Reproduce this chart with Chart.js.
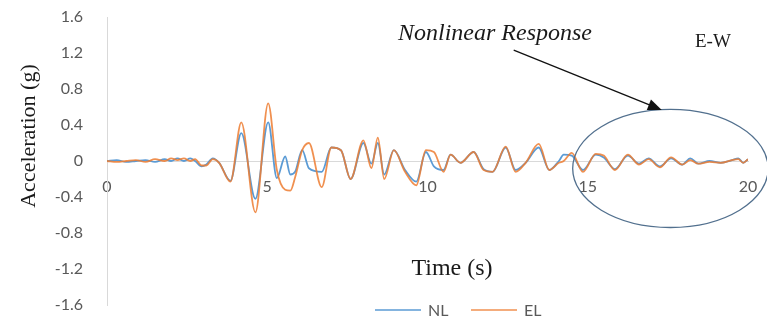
<!DOCTYPE html>
<html lang="en">
<head>
    <meta charset="UTF-8">
    <title>Acceleration E-W</title>
    <script src="https://cdn.jsdelivr.net/npm/chart.js"></script>
    <style>
        body {
            margin: 0;
            background-color: #ffffff;
        }

        .chart-box {
            width: 767px;
            height: 325px;
            position: relative;
        }
    </style>
</head>
<body>
    <div class="chart-box">
        <canvas id="accChart"></canvas>
    </div>

    <script>
        // time (s) and acceleration (g)
        const time = [0, 0.3, 0.6, 0.9, 1.2, 1.5, 1.8, 2.0, 2.2, 2.4, 2.6, 2.75, 2.95, 3.1, 3.3, 3.5,
            3.85, 4.19, 4.63, 5.03, 5.3, 5.56, 5.72, 5.87, 6.09, 6.3, 6.7, 7.0, 7.3, 7.6, 8.0, 8.25,
            8.45, 8.65, 8.95, 9.3, 9.65, 9.95, 10.2, 10.5, 10.72, 11.03, 11.44, 11.75, 12.03, 12.44,
            12.75, 13.06, 13.47, 13.8, 14.1, 14.25, 14.5, 14.85, 15.25, 15.5, 15.85, 16.25, 16.6,
            16.9, 17.25, 17.6, 17.95, 18.2, 18.45, 18.8, 19.15, 19.5, 19.7, 19.85, 20];
        const nl = [0, 0.01, -0.01, 0, 0.01, -0.01, 0.02, 0, 0.03, 0, 0.03, 0, -0.06, -0.04, 0.03, -0.02,
            -0.22, 0.31, -0.42, 0.43, -0.19, 0.05, -0.15, -0.12, 0.12, -0.08, -0.12, 0.15, 0.12, -0.2, 0.2, -0.03,
            0.2, -0.15, 0.12, -0.1, -0.23, 0.1, -0.06, -0.1, 0.07, -0.02, 0.1, -0.09, -0.12, 0.15,
            -0.1, -0.02, 0.15, -0.1, 0, 0.07, 0.06, -0.1, 0.07, 0.04, -0.09, 0.06, -0.03,
            0.03, -0.06, 0.03, -0.04, 0.03, -0.03, 0, -0.02, 0.01, 0.03, -0.02, 0.02];
        const el = [0, -0.01, 0, 0.01, -0.01, 0.02, 0, 0.03, 0.01, 0.03, 0, 0.02, -0.05, -0.05, 0.02, -0.02,
            -0.23, 0.43, -0.57, 0.64, -0.1, -0.32, -0.33, -0.18, 0.12, 0.2, -0.29, 0.15, 0.12, -0.2, 0.23, -0.08,
            0.26, -0.2, 0.12, -0.12, -0.27, 0.12, 0.1, -0.12, 0.07, -0.02, 0.1, -0.1, -0.12, 0.16,
            -0.12, -0.02, 0.19, -0.1, -0.02, 0, 0.09, -0.12, 0.08, 0.06, -0.1, 0.07, -0.04,
            0.02, -0.07, 0.04, -0.04, 0.01, -0.03, -0.01, -0.02, 0.01, 0.02, -0.02, 0.02];
        const xTicks = [0, 5, 10, 15, 20];
        const yTicks = [-1.6, -1.2, -0.8, -0.4, 0, 0.4, 0.8, 1.2, 1.6];

        function toPoints(values) {
            return time.map((t, i) => ({ x: t, y: values[i] }));
        }

        // annotation shapes in data units (s, g)
        const ellipse = { t: 17.58, g: -0.083, rt: 3.05, rg: 0.656 };
        const arrow = { t0: 12.69, g0: 1.233, t1: 17.31, g1: 0.567 };

        const extras = {
            id: 'extras',
            afterDraw(chart) {
                const ctx = chart.ctx;
                const xs = chart.scales.x;
                const ys = chart.scales.y;
                ctx.save();

                // axis titles
                ctx.fillStyle = '#1a1a1a';
                ctx.font = '22px "Liberation Serif"';
                ctx.textAlign = 'center';
                ctx.textBaseline = 'alphabetic';
                ctx.save();
                ctx.translate(35, 136);
                ctx.rotate(-Math.PI / 2);
                ctx.fillText('Acceleration (g)', 0, 0);
                ctx.restore();

                ctx.font = '24px "Liberation Serif"';
                ctx.fillText('Time (s)', 452, 275);

                // labels on top
                ctx.textAlign = 'left';
                ctx.font = 'italic 24px "Liberation Serif"';
                ctx.fillText('Nonlinear Response', 398, 40);
                ctx.font = '19px "Liberation Serif"';
                ctx.fillText('E-W', 695, 47);

                // ellipse round the late part
                const cx = xs.getPixelForValue(ellipse.t);
                const cy = ys.getPixelForValue(ellipse.g);
                const rx = xs.getPixelForValue(ellipse.t + ellipse.rt) - cx;
                const ry = cy - ys.getPixelForValue(ellipse.g + ellipse.rg);
                ctx.strokeStyle = '#52708e';
                ctx.lineWidth = 1.3;
                ctx.beginPath();
                ctx.ellipse(cx, cy, rx, ry, 0, 0, Math.PI * 2);
                ctx.stroke();

                // arrow
                const ax0 = xs.getPixelForValue(arrow.t0);
                const ay0 = ys.getPixelForValue(arrow.g0);
                const ax1 = xs.getPixelForValue(arrow.t1);
                const ay1 = ys.getPixelForValue(arrow.g1);
                const ang = Math.atan2(ay1 - ay0, ax1 - ax0);
                const head = 15;
                ctx.strokeStyle = '#111';
                ctx.fillStyle = '#111';
                ctx.lineWidth = 1.3;
                ctx.beginPath();
                ctx.moveTo(ax0, ay0);
                ctx.lineTo(ax1 - Math.cos(ang) * head * 0.8, ay1 - Math.sin(ang) * head * 0.8);
                ctx.stroke();
                ctx.beginPath();
                ctx.moveTo(ax1, ay1);
                ctx.lineTo(ax1 - head * Math.cos(ang - 0.38), ay1 - head * Math.sin(ang - 0.38));
                ctx.lineTo(ax1 - head * Math.cos(ang + 0.38), ay1 - head * Math.sin(ang + 0.38));
                ctx.closePath();
                ctx.fill();

                // legend
                ctx.font = '16px Lato';
                ctx.textBaseline = 'middle';
                let lx = 375;
                chart.data.datasets.forEach(ds => {
                    ctx.strokeStyle = ds.borderColor;
                    ctx.lineWidth = 1.5;
                    ctx.beginPath();
                    ctx.moveTo(lx, 310);
                    ctx.lineTo(lx + 46, 310);
                    ctx.stroke();
                    ctx.fillStyle = '#595959';
                    ctx.fillText(ds.label, lx + 53, 311);
                    lx += 96;
                });

                ctx.restore();
            }
        };

        const ctx = document.getElementById('accChart').getContext('2d');
        new Chart(ctx, {
            type: 'line',
            data: {
                datasets: [{
                    label: 'NL',
                    data: toPoints(nl),
                    borderColor: '#5b9bd5',
                    borderWidth: 1.8,
                    order: 1
                }, {
                    label: 'EL',
                    data: toPoints(el),
                    borderColor: 'rgba(237, 125, 49, 0.85)',
                    borderWidth: 1.8,
                    order: 0
                }]
            },
            options: {
                responsive: true,
                maintainAspectRatio: false,
                animation: false,
                layout: {
                    padding: { left: 0, top: 17, right: 19, bottom: 20 }
                },
                elements: {
                    point: { radius: 0 },
                    line: { cubicInterpolationMode: 'monotone', fill: false }
                },
                plugins: {
                    legend: { display: false },
                    tooltip: { enabled: false }
                },
                scales: {
                    x: {
                        type: 'linear',
                        position: { y: 0 },
                        min: 0,
                        max: 20,
                        afterBuildTicks: scale => {
                            scale.ticks = xTicks.map(v => ({ value: v }));
                        },
                        afterFit: scale => {
                            scale.paddingLeft = 0;
                            scale.paddingRight = 0;
                        },
                        grid: { display: false, drawTicks: false },
                        border: { display: true, color: '#d9d9d9' },
                        ticks: {
                            padding: 16,
                            color: '#595959',
                            font: { family: 'Lato', size: 16 }
                        }
                    },
                    y: {
                        min: -1.6,
                        max: 1.6,
                        afterBuildTicks: scale => {
                            scale.ticks = yTicks.map(v => ({ value: v }));
                        },
                        afterFit: scale => {
                            scale.width = 107;
                            scale.paddingTop = 0;
                            scale.paddingBottom = 0;
                        },
                        grid: { display: false, drawTicks: false },
                        border: { display: true, color: '#d9d9d9' },
                        ticks: {
                            padding: 24,
                            color: '#595959',
                            font: { family: 'Lato', size: 16 }
                        }
                    }
                }
            },
            plugins: [extras]
        });
    </script>
</body>
</html>
